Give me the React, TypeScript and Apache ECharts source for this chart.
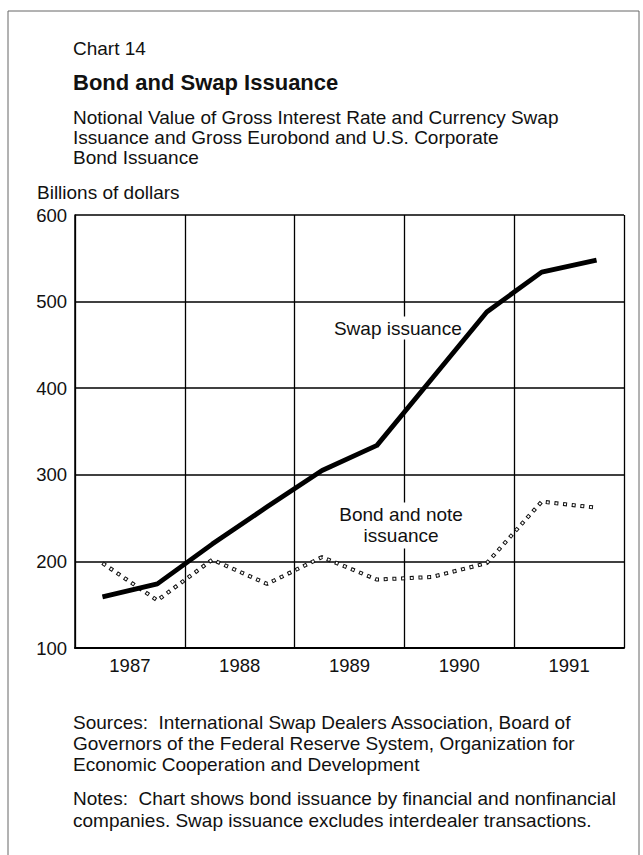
import React, { useEffect, useRef } from 'react';
import * as echarts from 'echarts';

// Semi-annual observations (plotted at the middle of each half-year)
const periods = [1987.25, 1987.75, 1988.25, 1988.75, 1989.25, 1989.75, 1990.25, 1990.75, 1991.25, 1991.75];
const swapIssuance = [159, 174, 220, 263, 305, 334, 411, 488, 534, 548];
const bondIssuance = [198, 155, 202, 174, 205, 179, 182, 198, 269, 262];
const yearLabels = ['1987', '1988', '1989', '1990', '1991'];
const yMin = 100;
const yMax = 600;
const yStep = 100;

const chartLabel = 'Chart 14';
const titleText = 'Bond and Swap Issuance';
const subtitleText = 'Notional Value of Gross Interest Rate and Currency Swap\nIssuance and Gross Eurobond and U.S. Corporate\nBond Issuance';
const unitText = 'Billions of dollars';
const sourcesText = 'Sources:  International Swap Dealers Association, Board of\nGovernors of the Federal Reserve System, Organization for\nEconomic Cooperation and Development';
const notesText = 'Notes:  Chart shows bond issuance by financial and nonfinancial\ncompanies. Swap issuance excludes interdealer transactions.';

export default function App() {
  const ref = useRef<HTMLDivElement>(null);
  useEffect(() => {
    document.body.style.margin = '0';
    const chart = echarts.init(ref.current!, null, { renderer: 'svg' });
    const font = '"Liberation Sans", Arial, Helvetica, sans-serif';
    const ink = '#111';
    const fs = 19;
    const tfs = 18.5;
    const toPairs = (vals: number[]) => periods.map((p, i) => [p, vals[i]]);

    const option: any = {
      animation: false,
      backgroundColor: '#fff',
      grid: { left: 75, right: 19, top: 215, bottom: 207, containLabel: false },
      xAxis: [
        {
          type: 'value', position: 'bottom', min: 1987, max: 1992, interval: 1,
          axisLine: { show: true, onZero: false, lineStyle: { color: '#000', width: 2 } },
          axisTick: { show: false }, axisLabel: { show: false },
          splitLine: { show: true, lineStyle: { color: '#000', width: 1.3 } },
        },
        {
          type: 'value', position: 'bottom', min: 1987, max: 1992, interval: 0.5,
          axisLine: { show: false }, axisTick: { show: false }, splitLine: { show: false },
          axisLabel: {
            show: true, margin: 8, fontSize: tfs, fontFamily: font, color: ink,
            formatter: (v: number) => {
              const f = Math.floor(v);
              return Math.abs(v - f - 0.5) < 1e-6 ? yearLabels[f - 1987] || '' : '';
            },
          },
        },
      ],
      yAxis: {
        type: 'value', min: yMin, max: yMax, interval: yStep,
        axisLine: { show: true, lineStyle: { color: '#000', width: 1.5 } },
        axisTick: { show: false },
        axisLabel: { margin: 8, fontSize: tfs, fontFamily: font, color: ink },
        splitLine: { show: true, lineStyle: { color: '#000', width: 1.5 } },
      },
      series: [
        {
          type: 'line', name: 'Bond and note issuance', xAxisIndex: 0, data: toPairs(bondIssuance),
          symbol: 'none', z: 3,
          lineStyle: { color: '#111', width: 4, type: [4, 4.7] },
          markPoint: {
            symbol: 'circle', symbolSize: 1, silent: true,
            itemStyle: { color: 'rgba(0,0,0,0)' },
            label: {
              show: true, position: 'inside', formatter: 'Bond and note\nissuance',
              fontSize: fs, fontFamily: font, color: ink, lineHeight: 21, align: 'center',
              backgroundColor: '#fff', padding: [2, 4],
            },
            data: [{ coord: [1989.97, 241.5] }],
          },
        },
        {
          type: 'line', name: 'Bond and note issuance (inner)', xAxisIndex: 0, data: toPairs(bondIssuance),
          symbol: 'none', z: 4,
          lineStyle: { color: '#fff', width: 2, type: [2, 6.7], dashOffset: -1 },
        },
        {
          type: 'line', name: 'Swap issuance', xAxisIndex: 0, data: toPairs(swapIssuance),
          symbol: 'none', z: 5,
          lineStyle: { color: '#000', width: 4.8, join: 'round' },
          markPoint: {
            symbol: 'circle', symbolSize: 1, silent: true,
            itemStyle: { color: 'rgba(0,0,0,0)' },
            label: {
              show: true, position: 'inside', formatter: 'Swap issuance',
              fontSize: fs, fontFamily: font, color: ink, align: 'center',
              backgroundColor: '#fff', padding: [2, 4],
            },
            data: [{ coord: [1989.94, 469.5] }],
          },
        },
      ],
      graphic: [
        { type: 'rect', shape: { x: 8, y: 11, width: 631, height: 870 }, style: { fill: 'none', stroke: '#666', lineWidth: 1 }, silent: true },
        { type: 'text', x: 73, y: 48, style: { text: chartLabel, fontSize: 19, fontFamily: font, fill: ink, textVerticalAlign: 'middle' } },
        { type: 'text', x: 73, y: 82, style: { text: titleText, fontSize: 22, fontWeight: 'bold', fontFamily: font, fill: ink, textVerticalAlign: 'middle' } },
        { type: 'text', x: 73, y: 107, style: { text: subtitleText, fontSize: fs, lineHeight: 20, fontFamily: font, fill: ink, textVerticalAlign: 'top' } },
        { type: 'text', x: 37, y: 192, style: { text: unitText, fontSize: fs, fontFamily: font, fill: ink, textVerticalAlign: 'middle' } },
        { type: 'text', x: 73, y: 712.5, style: { text: sourcesText, fontSize: fs, lineHeight: 20.7, fontFamily: font, fill: ink, textVerticalAlign: 'top' } },
        { type: 'text', x: 73, y: 788, style: { text: notesText, fontSize: fs, lineHeight: 21.7, fontFamily: font, fill: ink, textVerticalAlign: 'top' } },
      ],
    };
    chart.setOption(option);
    return () => chart.dispose();
  }, []);
  return <div ref={ref} style={{ position: 'absolute', left: 0, top: 0, width: 643, height: 855 }} />;
}
